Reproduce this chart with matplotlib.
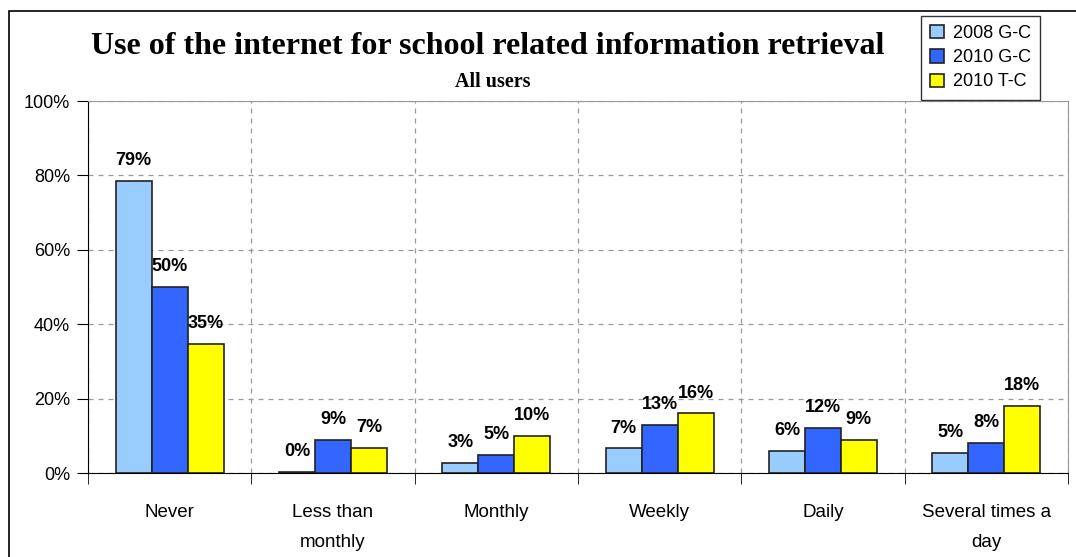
import matplotlib
matplotlib.use("Agg")
import matplotlib.pyplot as plt
import numpy as np
from matplotlib.patches import Rectangle

categories = ["Never", "Less than\nmonthly", "Monthly", "Weekly", "Daily", "Several times a\nday"]
series = ["2008 G-C", "2010 G-C", "2010 T-C"]
g2008 = [78.6, 0.3, 2.8, 6.6, 5.9, 5.4]
g2010 = [50.0, 8.9, 4.8, 12.8, 12.0, 8.0]
t2010 = [34.8, 6.8, 10.0, 16.0, 8.8, 18.0]
colors = ["#99CCFF", "#3366FF", "#FFFF00"]

plt.rcParams["font.family"] = ["Liberation Sans", "DejaVu Sans"]

fig = plt.figure(figsize=(10.76, 5.57), dpi=100)
ax = fig.add_axes([88 / 1076, 1 - 473 / 557, (1068 - 88) / 1076, (473 - 101) / 557])

x = np.arange(len(categories))
w = 0.22
for i, (vals, col, name) in enumerate(zip((g2008, g2010, t2010), colors, series)):
    pos = x + (i - 1) * w
    bars = ax.bar(pos, vals, w, color=col, edgecolor="#222222", linewidth=1.2, label=name)
    for b, v in zip(bars, vals):
        ax.text(b.get_x() + b.get_width() / 2, v + 3.2, f"{round(v):d}%",
                ha="center", va="bottom", fontsize=13, fontweight="bold")

ax.set_xlim(-0.5, len(categories) - 0.5)
ax.set_ylim(0, 100)
ax.set_yticks(np.arange(0, 101, 20))
ax.set_yticklabels([f"{t}%" for t in range(0, 101, 20)], fontsize=13)
ax.set_xticks(x)
ax.set_xticklabels(categories, fontsize=13.5, linespacing=2.0)
ax.set_xticks(np.arange(-0.5, len(categories), 1), minor=True)
ax.tick_params(axis="x", which="major", length=0, pad=22)
ax.tick_params(axis="x", which="minor", length=8, direction="out")
ax.tick_params(axis="y", length=8, direction="out", pad=5)

ax.grid(True, axis="y", linestyle=(0, (4, 4)), color="#999999", linewidth=0.9)
ax.grid(True, axis="x", which="minor", linestyle=(0, (4, 4)), color="#999999", linewidth=0.9)
ax.set_axisbelow(True)
for s in ("top", "right"):
    ax.spines[s].set_color("#999999")
for s in ("left", "bottom"):
    ax.spines[s].set_color("black")

fig.text(488 / 1076, 1 - 47 / 557, "Use of the internet for school related information retrieval",
         ha="center", va="center", fontsize=23, fontweight="bold", family="Liberation Serif")
fig.text(493 / 1076, 1 - 82 / 557, "All users", ha="center", va="center",
         fontsize=14.5, fontweight="bold", family="Liberation Serif")

leg = fig.legend(loc="upper left", bbox_to_anchor=(921 / 1076, 1 - 16 / 557), fontsize=13,
                 frameon=True, fancybox=False, edgecolor="black", handlelength=0.75,
                 handleheight=0.75, handletextpad=0.5, borderpad=0.5, labelspacing=0.4,
                 borderaxespad=0)
leg.get_frame().set_linewidth(1.0)

fig.patches.append(Rectangle((9 / 1076, -0.1), 1.2, 1.1 - 11 / 557, transform=fig.transFigure,
                             fill=False, edgecolor="black", linewidth=1.2))

fig.savefig("out.png", dpi=100)
